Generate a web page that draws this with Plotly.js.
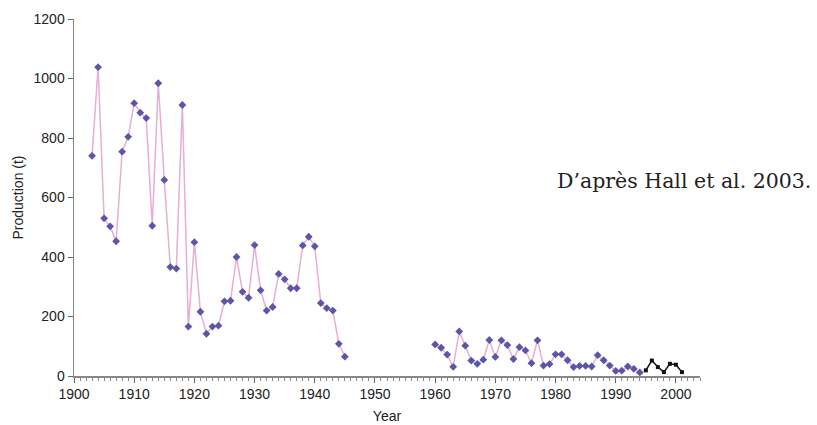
<!DOCTYPE html>
<html><head><meta charset="utf-8">
<script src="https://cdn.plot.ly/plotly-3.0.1.min.js"></script>
<style>body{margin:0;background:#fff}#chart{width:817px;height:425px}</style>
</head><body><div id="chart"></div>
<script>
const yearsEarly = [1903,1904,1905,1906,1907,1908,1909,1910,1911,1912,1913,1914,1915,1916,1917,1918,1919,1920,1921,1922,1923,1924,1925,1926,1927,1928,1929,1930,1931,1932,1933,1934,1935,1936,1937,1938,1939,1940,1941,1942,1943,1944,1945];
const prodEarly = [740,1038,530,503,453,754,804,917,885,867,505,984,659,366,361,911,166,450,216,142,166,169,251,253,400,283,263,440,288,220,232,343,325,295,295,439,468,436,245,228,220,108,65];
const yearsLate = [1960,1961,1962,1963,1964,1965,1966,1967,1968,1969,1970,1971,1972,1973,1974,1975,1976,1977,1978,1979,1980,1981,1982,1983,1984,1985,1986,1987,1988,1989,1990,1991,1992,1993,1994];
const prodLate = [106,95,72,31,150,102,52,41,55,121,64,120,104,57,97,86,43,120,35,40,73,73,53,30,34,34,32,70,53,35,17,18,32,24,12];
const yearsRecent = [1995,1996,1997,1998,1999,2000,2001];
const prodRecent = [19,52,30,13,41,38,13];
const xTicks = [1900,1910,1920,1930,1940,1950,1960,1970,1980,1990,2000];
const yTicks = [0,200,400,600,800,1000,1200];

const lineStyle = {color:'#e8aed3', width:1.5};
const markerStyle = {color:'#5b56a8', size:6, symbol:'diamond'};
const traces = [
  {x:yearsEarly, y:prodEarly, mode:'lines+markers', line:lineStyle, marker:markerStyle},
  {x:yearsLate, y:prodLate, mode:'lines+markers', line:lineStyle, marker:markerStyle},
  {x:yearsRecent, y:prodRecent, mode:'lines+markers', line:{color:'#111', width:1.5}, marker:{color:'#111', size:4, symbol:'square'}}
];
const font = {family:'Liberation Sans, Arial, sans-serif', size:14, color:'#222'};
const layout = {
  width:817, height:425, showlegend:false,
  margin:{l:74, r:117, t:19, b:49},
  paper_bgcolor:'#fff', plot_bgcolor:'#fff',
  font: font,
  xaxis:{range:[1900,2004], tickvals:xTicks, ticktext:xTicks.map(String), ticks:'outside', ticklen:5, tickcolor:'#666', tickwidth:1,
    showline:true, linecolor:'#888', linewidth:1.5, showgrid:false, zeroline:false,
    minor:{dtick:1, ticks:'outside', ticklen:3, tickcolor:'#888', showgrid:false},
    title:{text:'Year', font:font, standoff:10}},
  yaxis:{range:[0,1200], tickvals:yTicks, ticks:'outside', ticklen:5, tickcolor:'#666',
    showline:true, linecolor:'#888', linewidth:1.5, showgrid:false, zeroline:false,
    title:{text:'Production (t)', font:font, standoff:6}},
  annotations:[{xref:'paper', yref:'paper', x:(555-74)/626, y:(376-181)/357, xanchor:'left', yanchor:'middle',
    text:'D’après Hall et al. 2003.', showarrow:false, font:{family:'DejaVu Serif, serif', size:20.5, color:'#222'}}]
};
Plotly.newPlot('chart', traces, layout, {staticPlot:true});
</script></body></html>
